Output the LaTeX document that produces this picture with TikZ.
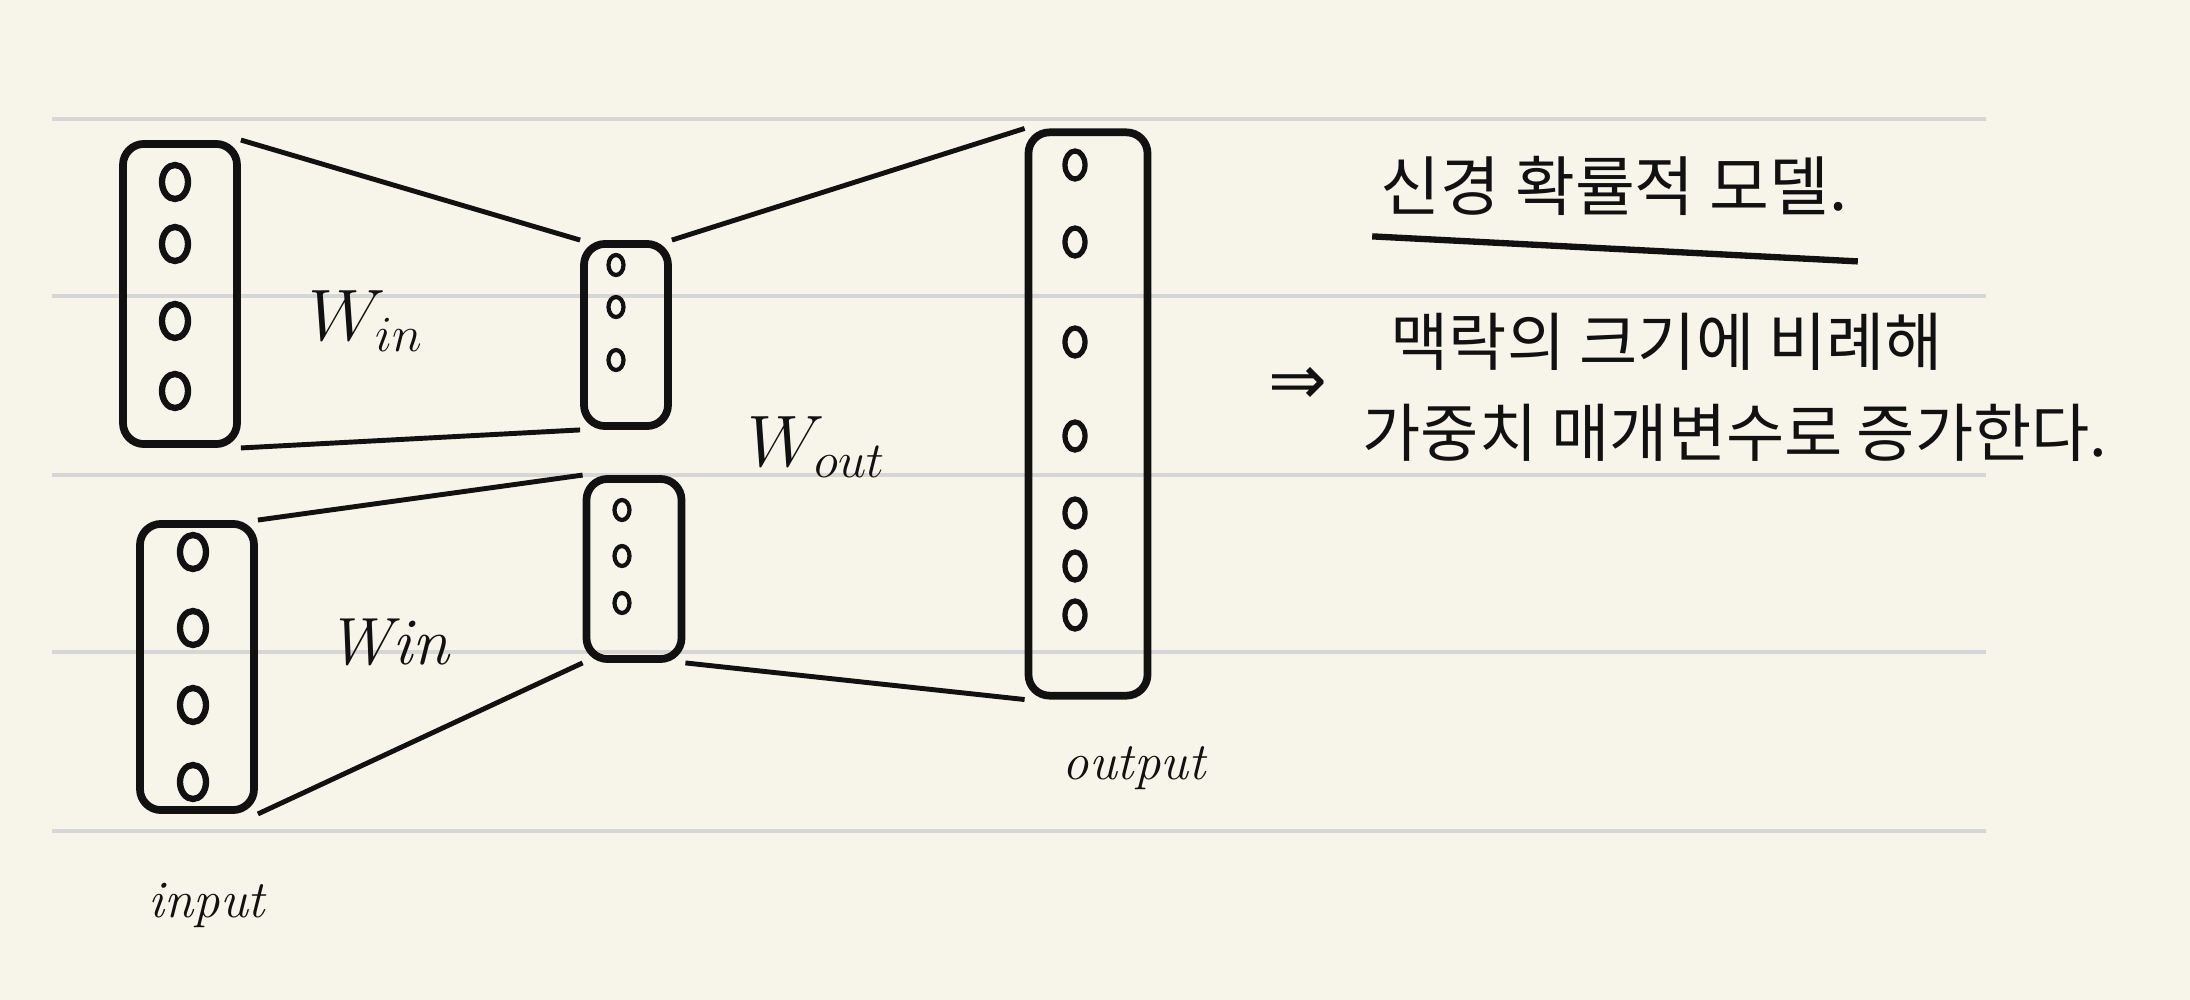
\documentclass[tikz,border=0pt]{standalone}
\usepackage{fontspec}
\usepackage{amsmath}
\usetikzlibrary{shapes.geometric, positioning, calc}
\newfontfamily\kofont{Noto Sans CJK KR}
\newfontfamily\symfont{DejaVu Sans}
\definecolor{PaperCream}{HTML}{F7F5EA}
\definecolor{RuleGray}{HTML}{D6D6D6}
\definecolor{InkBlack}{HTML}{111111}
\tikzset{
  layerbox/.style={draw=InkBlack, line width=2.2pt, rounded corners=6pt, inner sep=0pt},
  unit/.style={ellipse, draw=InkBlack, line width=1.8pt, inner sep=0pt,
               minimum width=0.26cm, minimum height=0.34cm},
  midunit/.style={unit, line width=1.5pt, minimum width=0.2cm, minimum height=0.28cm},
  smallunit/.style={unit, line width=1.2pt, minimum width=0.15cm, minimum height=0.2cm},
  funnel/.style={draw=InkBlack, line width=1.4pt},
  handlabel/.style={text=InkBlack, inner sep=0pt},
}

\begin{document}
\begin{tikzpicture}[x=0.01cm, y=-0.01cm]
    % Paper and notebook rules
    \fill[PaperCream] (0,0) rectangle (2190,1000);
    \useasboundingbox (0,0) rectangle (2190,1000);
    \foreach \ry in {119,296,475,652,831}
        \draw[RuleGray, line width=1pt] (52,\ry) -- (1986,\ry);

    % Layers
    \node[layerbox, minimum width=1.14cm, minimum height=3.0cm] (in1) at (180,294) {};
    \node[layerbox, minimum width=1.14cm, minimum height=2.86cm] (in2) at (197,667) {};
    \node[layerbox, minimum width=0.84cm, minimum height=1.82cm] (h1) at (626,335) {};
    \node[layerbox, minimum width=0.95cm, minimum height=1.80cm] (h2) at (634,569) {};
    \node[layerbox, minimum width=1.19cm, minimum height=5.63cm] (out) at (1088,414) {};

    % Units
    \foreach \uy [count=\k] in {182,244,321,391}
        \node[unit] (in1u\k) at (175,\uy) {};
    \foreach \uy [count=\k] in {552,628,705,782}
        \node[unit] (in2u\k) at (193,\uy) {};
    \foreach \uy [count=\k] in {265,307,360}
        \node[smallunit] (h1u\k) at (616,\uy) {};
    \foreach \uy [count=\k] in {510,556,603}
        \node[smallunit] (h2u\k) at (622,\uy) {};
    \foreach \uy [count=\k] in {165,242,342,436,513,566,615}
        \node[midunit] (outu\k) at (1075,\uy) {};

    % Weight funnels
    \draw[funnel] (in1.north east) -- (h1.north west);
    \draw[funnel] (in1.south east) -- (h1.south west);
    \draw[funnel] (in2.north east) -- (h2.north west);
    \draw[funnel] (in2.south east) -- (h2.south west);
    \draw[funnel] (h1.north east) -- (out.north west);
    \draw[funnel] (h2.south east) -- (out.south west);

    % Weight labels
    \node[handlabel, font=\fontsize{20}{24}\selectfont] (win1) at (366,321) {$W_{in}$};
    \node[handlabel, font=\fontsize{19}{23}\selectfont\itshape] (win2) at (388,642) {Win};
    \node[handlabel, font=\fontsize{20}{24}\selectfont] (wout) at (817,447) {$W_{out}$};
    \node[handlabel, font=\fontsize{15}{18}\selectfont\itshape] (inlab) at (207,905) {input};
    \node[handlabel, font=\fontsize{15}{18}\selectfont\itshape] (outlab) at (1134,768) {output};

    % Note
    \node[handlabel, font=\kofont\fontsize{18.5}{22}\selectfont] (title) at (1614,186) {신경 확률적 모델.};
    \draw[InkBlack, line width=1.8pt] ([xshift=-0.08cm, yshift=-0.2cm]title.south west)
        -- ([xshift=0.1cm, yshift=-0.45cm]title.south east);
    \node[handlabel, font=\symfont\fontsize{20}{24}\selectfont] (imp) at (1298,386) {⇒};
    \node[handlabel, anchor=west, font=\kofont\fontsize{18}{22}\selectfont] (note1) at (1390,342) {맥락의 크기에 비례해};
    \node[handlabel, anchor=west, font=\kofont\fontsize{18}{22}\selectfont] (note2) at (1362,433) {가중치 매개변수로 증가한다.};
\end{tikzpicture}
\end{document}
